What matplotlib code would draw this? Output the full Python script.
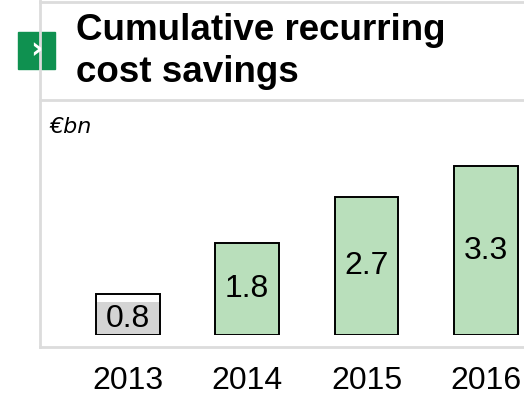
import matplotlib.pyplot as plt
from matplotlib.lines import Line2D
from matplotlib.patches import Rectangle

years = ['2013', '2014', '2015', '2016']
savings = [0.8, 1.8, 2.7, 3.3]
bar_colors = ['white', '#b9dfbb', '#b9dfbb', '#b9dfbb']

W, H = 524, 395
fig = plt.figure(figsize=(W / 100, H / 100), dpi=100)

num_font = 'Liberation Sans'

def fx(px):
    return px / W

def fy(py):
    return 1 - py / H

# axes placed in pixel terms: bars sit on y=335
ax = fig.add_axes([fx(40), fy(335), fx(524) - fx(40), fy(100) - fy(335)])
ax.set_xlim(-0.737, 3.32)
ax.set_ylim(0, 4.6)
ax.axis('off')

bars = ax.bar(range(len(years)), savings, width=0.536, color=bar_colors,
              edgecolor='black', linewidth=1.4, zorder=2)

# grey label background inside the small first bar
b0 = bars[0]
ax.add_patch(Rectangle((b0.get_x() + 0.01, 0.02), b0.get_width() - 0.02,
                       b0.get_height() * 0.78, color='#d4d4d4', lw=0, zorder=2.5))

for i, v in enumerate(savings):
    y = v * 0.38 if i == 0 else v / 2
    ax.text(i, y, f'{v}', ha='center', va='center', fontsize=23,
            family=num_font, zorder=3)
    ax.text(i, -0.9, years[i], ha='center', va='center', fontsize=23,
            family=num_font, clip_on=False)

# frame lines
grey = '#dcdcdc'
fig.add_artist(Line2D([fx(40), fx(40)], [fy(0), fy(347)], color=grey, lw=2))
fig.add_artist(Line2D([fx(40), 1], [fy(347), fy(347)], color=grey, lw=2))
fig.add_artist(Line2D([fx(40), 1], [fy(100), fy(100)], color=grey, lw=2))
fig.add_artist(Line2D([fx(40), 1], [fy(1.5), fy(1.5)], color=grey, lw=2))

# green marker with chevron
fig.add_artist(Rectangle((fx(18), fy(69)), fx(37), fy(32) - fy(69), color='#0f9150',
                         transform=fig.transFigure))
fig.text(fx(36.5), fy(50), '›', color='white', fontsize=22, fontweight='bold',
         family='DejaVu Sans', ha='center', va='center')

fig.text(fx(76), fy(31), 'Cumulative recurring', fontsize=26.5,
         fontweight='bold', family='Liberation Sans', ha='left', va='center')
fig.text(fx(76), fy(72), 'cost savings', fontsize=26.5,
         fontweight='bold', family='Liberation Sans', ha='left', va='center')
fig.text(fx(49), fy(127), '€bn', fontsize=16, style='italic',
         family='DejaVu Sans', ha='left', va='center')

fig.savefig('out.png', dpi=100)
